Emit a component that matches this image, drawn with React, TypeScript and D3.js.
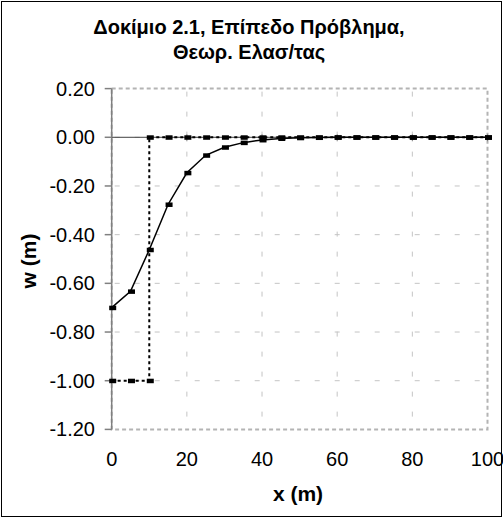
import { scaleLinear, line } from "d3";

// Series 1: theory of elasticity solution (solid line)
const xSolid = [0, 5, 10, 15, 20, 25, 30, 35, 40, 45, 50, 55, 60, 65, 70, 75, 80, 85, 90, 95, 100];
const wSolid = [-0.70, -0.633, -0.462, -0.276, -0.146, -0.074, -0.041, -0.022, -0.011, -0.005, -0.002, -0.001, 0, 0, 0, 0, 0, 0, 0, 0, 0];

// Series 2: applied load profile (dotted step)
const xStep = [0, 5, 10, 10, 15, 20, 25, 30, 35, 40, 45, 50, 55, 60, 65, 70, 75, 80, 85, 90, 95, 100];
const wStep = [-1, -1, -1, 0, 0, 0, 0, 0, 0, 0, 0, 0, 0, 0, 0, 0, 0, 0, 0, 0, 0, 0];

const xTicks = [0, 20, 40, 60, 80, 100];
const yTicks = [0.2, 0, -0.2, -0.4, -0.6, -0.8, -1.0, -1.2];

const titleLines = ["Δοκίμιο 2.1, Επίπεδο Πρόβλημα,", "Θεωρ. Ελασ/τας"];
const xLabel = "x (m)";
const yLabel = "w (m)";

const W = 503;
const H = 518;
const font = "Arial, 'Liberation Sans', sans-serif";

export default function App() {
  const x = scaleLinear().domain([0, 100]).range([111.7, 487.5]);
  const y = scaleLinear().domain([-1.2, 0.2]).range([429.4, 88.6]);

  const solidPts = xSolid.map((d, i) => [d, wSolid[i]] as [number, number]);
  const stepPts = xStep.map((d, i) => [d, wStep[i]] as [number, number]);

  const path = line<[number, number]>()
    .x((d) => x(d[0]))
    .y((d) => y(d[1]));

  const marker = (d: [number, number], i: number, key: string) => (
    <rect key={key + i} x={x(d[0]) - 2.5} y={y(d[1]) - 2} width={7} height={4.5} fill="#000" />
  );

  return (
    <div style={{ position: "fixed", left: 0, top: 0 }}>
      <svg width={W} height={H} style={{ display: "block", background: "#fff" }}>
        <rect x={1.5} y={1.5} width={W - 3} height={H - 3} fill="#fff" stroke="#000" strokeWidth={1} />

        {/* title */}
        {titleLines.map((t, i) => (
          <text key={t} x={249} y={34 + i * 25} textAnchor="middle" fontFamily={font} fontWeight="bold" fontSize={20}>
            {t}
          </text>
        ))}

        {/* grid */}
        {yTicks.slice(1, -1).map((t) => (
          <line key={"gy" + t} x1={x(0)} x2={x(100)} y1={y(t)} y2={y(t)} stroke="#c4c4c4" strokeDasharray="5,15" strokeDashoffset={-3} />
        ))}
        {xTicks.slice(1, -1).map((t) => (
          <line key={"gx" + t} x1={x(t)} x2={x(t)} y1={y(0.2)} y2={y(-1.2)} stroke="#c4c4c4" strokeDasharray="5,15" strokeDashoffset={-3} />
        ))}
        {/* plot area border */}
        <rect x={x(0)} y={y(0.2)} width={x(100) - x(0)} height={y(-1.2) - y(0.2)} fill="none" stroke="#b4b4b4" strokeWidth={2} strokeDasharray="4,3" />

        {/* y axis */}
        <line x1={x(0)} x2={x(0)} y1={y(0.2)} y2={y(-1.2)} stroke="#808080" strokeWidth={1.5} />
        {yTicks.map((t) => (
          <g key={"ty" + t}>
            <line x1={x(0) - 7} x2={x(0)} y1={y(t)} y2={y(t)} stroke="#808080" strokeWidth={1.5} />
            <text x={95} y={y(t)} dy="0.35em" textAnchor="end" fontFamily={font} fontSize={20}>
              {t.toFixed(2)}
            </text>
          </g>
        ))}

        {/* x axis at w = 0 */}
        <line x1={x(0)} x2={x(100)} y1={y(0)} y2={y(0)} stroke="#404040" strokeWidth={1} />
        {xTicks.map((t) => (
          <g key={"tx" + t}>
            <line x1={x(t)} x2={x(t)} y1={y(0) - 3} y2={y(0) + 4} stroke="#808080" strokeWidth={1} />
            <text x={x(t)} y={466} textAnchor="middle" fontFamily={font} fontSize={20}>
              {t}
            </text>
          </g>
        ))}

        {/* axis titles */}
        <text x={298} y={501} textAnchor="middle" fontFamily={font} fontWeight="bold" fontSize={21}>
          {xLabel}
        </text>
        <text transform="translate(36,261) rotate(-90)" textAnchor="middle" fontFamily={font} fontWeight="bold" fontSize={21}>
          {yLabel}
        </text>

        {/* series */}
        <path d={path(stepPts) ?? ""} fill="none" stroke="#000" strokeWidth={2} strokeDasharray="3,3" />
        {stepPts.map((d, i) => marker(d, i, "ms"))}
        <path d={path(solidPts) ?? ""} fill="none" stroke="#000" strokeWidth={1.5} />
        {solidPts.map((d, i) => marker(d, i, "mc"))}
      </svg>
    </div>
  );
}
